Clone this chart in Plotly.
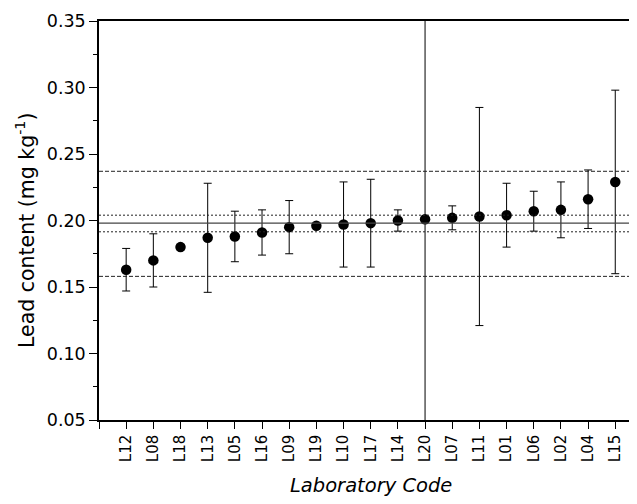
import plotly.graph_objects as go

labs = ["L12", "L08", "L18", "L13", "L05", "L16", "L09", "L19", "L10", "L17",
        "L14", "L20", "L07", "L11", "L01", "L06", "L02", "L04", "L15"]
lead = [0.163, 0.170, 0.180, 0.187, 0.188, 0.191, 0.195, 0.196, 0.197, 0.198,
        0.200, 0.201, 0.202, 0.203, 0.204, 0.207, 0.208, 0.216, 0.229]
unc = [0.016, 0.020, 0.002, 0.041, 0.019, 0.017, 0.020, 0.001, 0.032, 0.033,
       0.008, 0.160, 0.009, 0.082, 0.024, 0.015, 0.021, 0.022, 0.069]

assigned = 0.198
assigned_unc = [0.1915, 0.204]
target_limits = [0.158, 0.237]

xpos = list(range(1, len(labs) + 1))

fig = go.Figure()
fig.add_trace(go.Scatter(
    x=xpos, y=lead, mode="markers",
    marker=dict(color="black", size=10.5),
    error_y=dict(type="data", array=unc, visible=True, color="black",
                 thickness=1, width=4),
    cliponaxis=True, showlegend=False,
))

fig.add_hline(y=assigned, line=dict(color="#444444", width=1.2))
for v in assigned_unc:
    fig.add_hline(y=v, line=dict(color="#222222", width=1, dash="2px,2px"))
for v in target_limits:
    fig.add_hline(y=v, line=dict(color="#222222", width=1, dash="4px,2px"))

font_family = "DejaVu Sans, Verdana, sans-serif"

# plot area: 538 px wide (91..629), 399 px high (13..412)
fig.update_layout(
    width=629, height=496,
    margin=dict(l=91, r=0, t=13, b=84),
    plot_bgcolor="white", paper_bgcolor="white",
    font=dict(family=font_family, color="black", size=13),
    xaxis=dict(
        range=[0, 19.8], automargin=False,
        tickvals=xpos, ticktext=labs,
        tickangle=-90, tickfont=dict(size=15),
        ticks="outside", ticklen=7, tickwidth=1.2, tickcolor="black",
        minor=dict(tickvals=[0], ticks="outside", ticklen=7, tickwidth=1.2,
                   tickcolor="black"),
        showline=True, linecolor="black", linewidth=1.5, mirror=True,
        showgrid=False, zeroline=False,
    ),
    yaxis=dict(
        range=[0.05, 0.35], automargin=False,
        tickvals=[0.05, 0.10, 0.15, 0.20, 0.25, 0.30, 0.35],
        tickformat=".2f", tickfont=dict(size=17.5),
        ticks="outside", ticklen=8, tickwidth=1.2, tickcolor="black",
        minor=dict(tickvals=[0.075, 0.125, 0.175, 0.225, 0.275, 0.325],
                   ticks="outside", ticklen=4, tickwidth=1.2, tickcolor="black"),
        showline=True, linecolor="black", linewidth=1.5, mirror=False,
        showgrid=False, zeroline=False,
    ),
    annotations=[
        dict(text="Lead content (mg kg<sup>-1</sup>)", xref="paper", yref="paper",
             x=(17 - 91) / 538, y=(412 - 223) / 399, textangle=-90, showarrow=False,
             font=dict(size=20.5), xanchor="center", yanchor="middle"),
        dict(text="<i>Laboratory Code</i>", xref="paper", yref="paper",
             x=(363 - 91) / 538, y=(412 - 478) / 399, showarrow=False,
             font=dict(size=19.5), xanchor="center", yanchor="middle"),
    ],
)

fig.write_html("out.html")
